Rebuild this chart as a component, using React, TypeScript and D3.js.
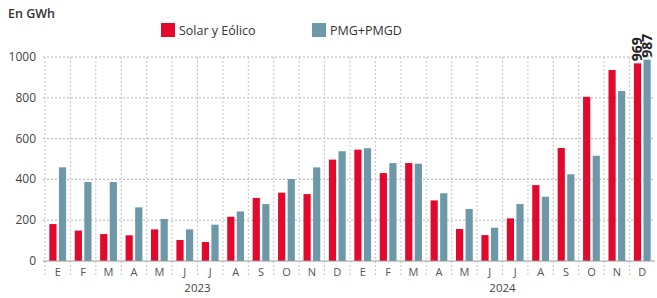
import React from 'react';
import * as d3 from 'd3';

// months E..D for 2023 and 2024
const months = ['E', 'F', 'M', 'A', 'M', 'J', 'J', 'A', 'S', 'O', 'N', 'D'];
const years = ['2023', '2024'];
const solar = [181, 149, 132, 126, 155, 103, 93, 217, 309, 335, 328, 497,
  546, 431, 480, 297, 157, 127, 209, 372, 554, 805, 936, 969];
const pmg = [459, 387, 387, 263, 206, 155, 178, 243, 279, 402, 459, 538,
  553, 480, 477, 332, 255, 163, 279, 315, 425, 516, 833, 987];
const yTicks = [0, 200, 400, 600, 800, 1000];
const labelled = [23];

const RED = '#e3092d';
const BLUE = '#6c98a8';
const FONT = '"Open Sans", sans-serif';

export default function App() {
  const W = 657, H = 298;
  const left = 45, right = 655, top = 57, bottom = 261;
  const idx = d3.range(solar.length).map(String);
  const x = d3.scaleBand().domain(idx).range([left, right]);
  const inner = d3.scaleBand().domain(['s', 'p']).range([0, x.bandwidth()]).paddingInner(0.25).paddingOuter(0.45);
  const y = d3.scaleLinear().domain([0, 1000]).range([bottom, top]);

  return (
    <svg width={W} height={H} style={{ position: 'absolute', left: 0, top: 0, fontFamily: FONT }}>
      <rect width={W} height={H} fill="#fff" />
      <text x={8} y={18} fontSize={12.5} fontWeight={600} fill="#333">En GWh</text>
      {/* legend */}
      <rect x={161} y={23} width={14} height={14} fill={RED} />
      <text x={179} y={35} fontSize={12.5} fill="#333">Solar y Eólico</text>
      <rect x={312} y={23} width={14} height={14} fill={BLUE} />
      <text x={330} y={35} fontSize={12.5} fill="#333">PMG+PMGD</text>

      {yTicks.map(t => (
        <g key={t}>
          {t > 0 && <line x1={43} x2={right} y1={y(t)} y2={y(t)} stroke="#b5b5b5" strokeDasharray="2,2" />}
          <text x={36} y={y(t) + 4} textAnchor="end" fontSize={12} fill="#444">{t}</text>
        </g>
      ))}
      {idx.map(i => (
        <line key={'v' + i} x1={x(i)!} x2={x(i)!} y1={top} y2={276} stroke="#c4c4c4" strokeDasharray="2,2" />
      ))}
      {idx.map((i, k) => (
        <g key={'b' + i}>
          <rect x={x(i)! + inner('s')!} y={y(solar[k])} width={inner.bandwidth()} height={bottom - y(solar[k])} fill={RED} />
          <rect x={x(i)! + inner('p')!} y={y(pmg[k])} width={inner.bandwidth()} height={bottom - y(pmg[k])} fill={BLUE} />
          <text x={x(i)! + x.bandwidth() / 2} y={276} textAnchor="middle" fontSize={11} fill="#555">{months[k % 12]}</text>
        </g>
      ))}
      {labelled.map(k => {
        const cx1 = x(String(k))! + inner('s')! + inner.bandwidth() / 2;
        const cx2 = x(String(k))! + inner('p')! + inner.bandwidth() / 2;
        return (
          <g key={'l' + k}>
            <text transform={`translate(${cx1 + 5},${y(solar[k]) - 2}) rotate(-90)`} fontSize={14} fontWeight={700} fill="#222">{solar[k]}</text>
            <text transform={`translate(${cx2 + 5},${y(pmg[k]) - 2}) rotate(-90)`} fontSize={14} fontWeight={700} fill="#222">{pmg[k]}</text>
          </g>
        );
      })}
      <line x1={43} x2={right} y1={bottom} y2={bottom} stroke="#999" />
      {years.map((yr, j) => (
        <text key={yr} x={x(String(j * 12 + 6))!} y={292} textAnchor="middle" fontSize={11.5} fill="#444">{yr}</text>
      ))}
    </svg>
  );
}
